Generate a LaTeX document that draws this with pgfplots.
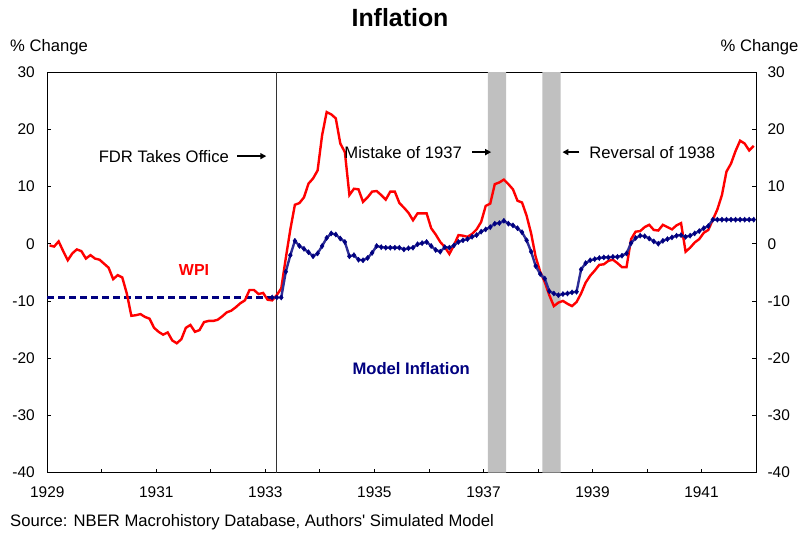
\documentclass[border=0pt]{standalone}
\usepackage{pgfplots}
\pgfplotsset{compat=1.18}
\usepackage{pgfplotstable}
\usepackage{fontspec}
\setmainfont{Liberation Sans}
\usetikzlibrary{arrows.meta}
\definecolor{wpired}{RGB}{255,0,0}
\definecolor{navyd}{RGB}{0,0,128}
\definecolor{navyl}{RGB}{45,45,150}
\definecolor{band}{RGB}{192,192,192}

\pgfplotstableread{
m wpi
0 -0.3
1 -0.5
2 0.4
3 -1.3
4 -2.9
5 -1.7
6 -1.0
7 -1.3
8 -2.6
9 -2.0
10 -2.6
11 -2.8
12 -3.5
13 -4.2
14 -6.2
15 -5.5
16 -5.9
17 -8.7
18 -12.6
19 -12.5
20 -12.3
21 -12.8
22 -13.1
23 -14.7
24 -15.4
25 -15.9
26 -15.5
27 -16.9
28 -17.4
29 -16.7
30 -14.7
31 -14.2
32 -15.4
33 -15.1
34 -13.7
35 -13.5
36 -13.5
37 -13.3
38 -12.7
39 -12.0
40 -11.7
41 -11.1
42 -10.4
43 -9.9
44 -8.1
45 -8.1
46 -8.8
47 -8.6
48 -9.8
49 -9.9
50 -9.0
51 -7.8
52 -2.5
53 2.5
54 6.8
55 7.1
56 8.1
57 10.5
58 11.4
59 12.8
60 19.0
61 23.0
62 22.6
63 21.9
64 17.5
65 16.0
66 8.5
67 9.6
68 9.5
69 7.3
70 8.1
71 9.1
72 9.2
73 8.5
74 7.7
75 9.1
76 9.1
77 7.1
78 6.3
79 5.4
80 4.1
81 5.3
82 5.3
83 5.3
84 2.7
85 1.6
86 0.3
87 -0.6
88 -1.8
89 -0.3
90 1.5
91 1.4
92 1.2
93 1.7
94 2.5
95 3.8
96 6.6
97 7.0
98 10.4
99 10.7
100 11.2
101 10.4
102 9.5
103 7.5
104 7.2
105 4.9
106 1.8
107 -2.3
108 -4.9
109 -6.7
110 -9.0
111 -10.9
112 -10.3
113 -10.0
114 -10.5
115 -10.9
116 -10.2
117 -8.7
118 -6.8
119 -5.6
120 -4.7
121 -3.7
122 -3.6
123 -3.0
124 -2.8
125 -3.4
126 -4.1
127 -4.1
128 0.8
129 2.1
130 2.2
131 2.9
132 3.3
133 2.4
134 2.3
135 3.3
136 2.9
137 2.5
138 3.2
139 3.6
140 -1.4
141 -0.7
142 0.2
143 0.8
144 1.9
145 2.4
146 4.2
147 6.0
148 8.5
149 12.6
150 14.0
151 16.2
152 18.0
153 17.5
154 16.3
155 17.1
}\wpitab

\pgfplotstableread{
m model
49 -9.4
50 -9.4
51 -9.4
52 -4.9
53 -2.0
54 0.5
55 -0.4
56 -0.9
57 -1.5
58 -2.2
59 -1.7
60 -0.4
61 1.0
62 1.8
63 1.6
64 0.9
65 0.3
66 -2.2
67 -2.0
68 -2.8
69 -2.9
70 -2.5
71 -1.6
72 -0.4
73 -0.6
74 -0.7
75 -0.7
76 -0.7
77 -0.7
78 -1.0
79 -0.8
80 -0.7
81 -0.1
82 0.1
83 0.3
84 -0.4
85 -1.1
86 -1.4
87 -0.6
88 -0.7
89 -0.3
90 0.3
91 0.6
92 0.8
93 1.2
94 1.5
95 2.1
96 2.5
97 2.9
98 3.5
99 3.6
100 4.0
101 3.5
102 3.2
103 2.7
104 2.0
105 0.6
106 -1.4
107 -3.9
108 -5.3
109 -6.1
110 -8.3
111 -8.7
112 -9.0
113 -8.8
114 -8.7
115 -8.5
116 -8.4
117 -4.5
118 -3.4
119 -2.9
120 -2.7
121 -2.5
122 -2.4
123 -2.4
124 -2.3
125 -2.3
126 -2.1
127 -1.7
128 0.1
129 1.0
130 1.4
131 1.3
132 0.9
133 0.4
134 0.0
135 0.5
136 0.8
137 1.1
138 1.4
139 1.5
140 1.2
141 1.4
142 1.8
143 2.2
144 2.7
145 3.1
146 4.2
147 4.2
148 4.2
149 4.2
150 4.2
151 4.2
152 4.2
153 4.2
154 4.2
155 4.2
}\modeltab

\begin{document}
\begin{tikzpicture}[font=\fontsize{16.7}{20}\selectfont]
\useasboundingbox (-47.3bp,-62.4bp) rectangle (751.7bp,472.6bp);
\begin{axis}[
  at={(0,0)}, anchor=south west,
  scale only axis, width=708.7bp, height=400.6bp,
  xmin=-0.5, xmax=155.5, ymin=-40, ymax=30,
  xtick={-0.5,11.5,...,155.5},
  xticklabels={1929,,1931,,1933,,1935,,1937,,1939,,1941,},
  ytick={-40,-30,...,30},
  yticklabels={-40,-30,-20,-10,0,10,20,30},
  tick align=inside, major tick length=4bp,
  xtick pos=left, ytick pos=both, yticklabel pos=left,
  tick style={black, line width=0.8bp},
  axis line style={black, line width=0.9bp},
  ticklabel style={font=\fontsize{15.5}{18}\selectfont},
  xticklabel style={yshift=-11bp},
  yticklabel style={xshift=-9bp},
  clip=false,
]
\addplot[fill=band, draw=none] coordinates {(96.5,-40) (96.5,30) (100.5,30) (100.5,-40) (96.5,-40)};
\addplot[fill=band, draw=none] coordinates {(108.5,-40) (108.5,30) (112.5,30) (112.5,-40) (108.5,-40)};
\addplot[black!80, line width=0.8bp] coordinates {(50,-40) (50,30)};
\addplot[navyd, line width=2.8bp, dash pattern=on 6.5bp off 4.5bp] coordinates {(-0.5,-9.4) (49,-9.4)};
\addplot[wpired, line width=2.4bp] table[x=m,y=wpi]{\wpitab};
\addplot[navyl, line width=2.4bp, mark=diamond*, mark size=2.6bp,
  mark options={fill=navyd, draw=navyd, line width=0.4bp}] table[x=m,y=model]{\modeltab};

\node[anchor=east, inner sep=0pt] at (axis cs:39.5,15.3) {FDR Takes Office};
\draw[-{Triangle[length=6bp,width=6bp]}, line width=1.6bp] (axis cs:41.3,15.3) -- (axis cs:47.7,15.3);
\node[anchor=east, inner sep=0pt] at (axis cs:90.8,16.0) {Mistake of 1937};
\draw[-{Triangle[length=6bp,width=6bp]}, line width=1.6bp] (axis cs:93.0,16.0) -- (axis cs:97.2,16.0);
\node[anchor=west, inner sep=0pt] at (axis cs:118.8,16.0) {Reversal of 1938};
\draw[-{Triangle[length=6bp,width=6bp]}, line width=1.6bp] (axis cs:116.6,16.0) -- (axis cs:112.9,16.0);
\node[wpired, font=\fontsize{16}{19}\selectfont\bfseries] at (axis cs:31.8,-4.6) {WPI};
\node[navyd, font=\fontsize{16.7}{20}\selectfont\bfseries] at (axis cs:79.6,-21.9) {Model Inflation};
\end{axis}
\begin{axis}[
  at={(0,0)}, anchor=south west,
  scale only axis, width=708.7bp, height=400.6bp,
  xmin=-0.5, xmax=155.5, ymin=-40, ymax=30,
  hide x axis, axis y line*=right,
  ytick={-40,-30,...,30},
  yticklabels={-40,-30,-20,-10,0,10,20,30},
  tick align=inside, major tick length=4bp,
  tick style={black, line width=0.8bp},
  axis line style={black, line width=0.9bp},
  ticklabel style={font=\fontsize{15.5}{18}\selectfont},
  yticklabel style={xshift=8bp},
]
\addplot[draw=none] coordinates {(0,0)};
\end{axis}
\node[font=\fontsize{25}{28}\selectfont\bfseries] at (352.7bp,454.6bp) {Inflation};
\node at (1.7bp,425.6bp) {\% Change};
\node at (712.2bp,425.6bp) {\% Change};
\node[anchor=west, inner sep=0pt] at (-37.3bp,-49.4bp) {Source: NBER Macrohistory Database, Authors\textquotesingle\ Simulated Model};
\end{tikzpicture}
\end{document}
